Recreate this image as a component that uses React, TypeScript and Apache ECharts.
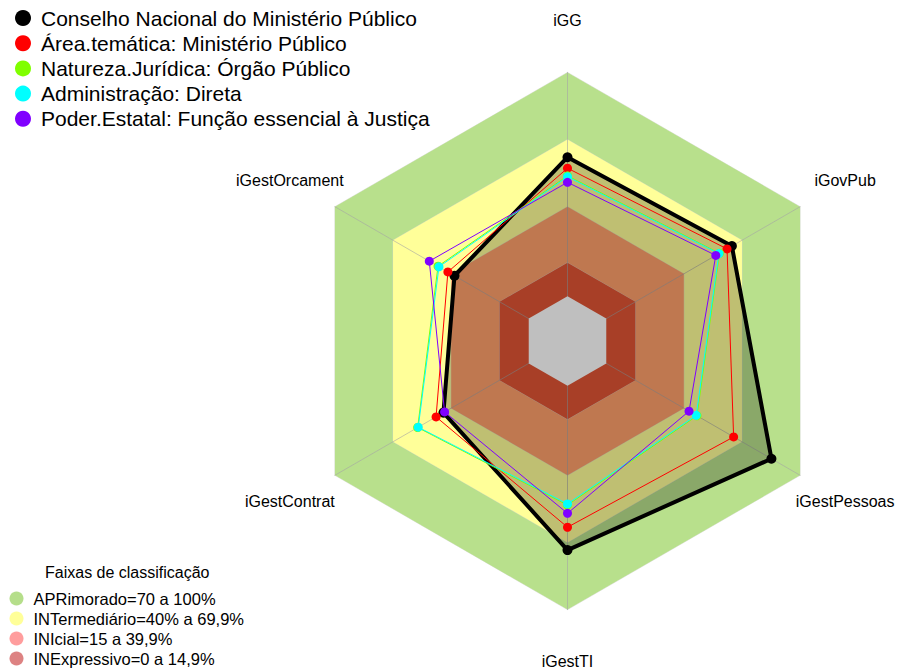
import React, { useEffect, useRef } from "react";
import * as echarts from "echarts";

// Indicators, listed counter-clockwise from the top (ECharts radar order)
const categories = ["iGG", "iGestOrcament", "iGestContrat", "iGestTI", "iGestPessoas", "iGovPub"];

const seriesNames = [
  "Conselho Nacional do Ministério Público",
  "Área.temática: Ministério Público",
  "Natureza.Jurídica: Órgão Público",
  "Administração: Direta",
  "Poder.Estatal: Função essencial à Justiça",
];
const seriesColors = ["#000000", "#ff0000", "#80ff00", "#00ffff", "#8000ff"];

const cnmp = [62.1, 38.3, 44.0, 73.4, 85.2, 64.8];
const areaTematica = [57.2, 41.7, 47.8, 63.2, 65.7, 62.3];
const naturezaJuridica = [53.8, 46.8, 57.3, 53.3, 46.8, 58.4];
const administracao = [53.4, 46.3, 57.0, 52.8, 46.4, 58.1];
const poderEstatal = [50.9, 51.3, 43.4, 57.0, 42.7, 56.5];
const seriesValues = [cnmp, areaTematica, naturezaJuridica, administracao, poderEstatal];

// Classification bands (upper limit of each band)
const bandNames = [
  "APRimorado=70 a 100%",
  "INTermediário=40% a 69,9%",
  "INIcial=15 a 39,9%",
  "INExpressivo=0 a 14,9%",
];
const bandUpper = [100, 70, 40, 15];
const bandFill = ["#b8e08c", "#ffff99", "#ffa06b", "#e05535"];
const bandLegendColors = ["#b5de8a", "#ffff99", "#ff9d9d", "#dd8282"];

const zeroLevel = 0;
const axisMin = -20;
const axisMax = 100;

const FONT = "'Liberation Sans', Arial, Helvetica, sans-serif";

export default function App() {
  const ref = useRef<HTMLDivElement>(null);

  useEffect(() => {
    if (!ref.current) return;
    const chart = echarts.init(ref.current, undefined, { renderer: "svg" });

    const bandSeries = bandNames.map((name, i) => ({
      type: "radar",
      name,
      z: 0,
      silent: true,
      symbol: "none",
      lineStyle: { color: "rgba(210,210,210,0.6)", width: 1 },
      areaStyle: { color: bandFill[i], opacity: 1 },
      itemStyle: { color: bandFill[i] },
      emphasis: { disabled: true },
      data: [{ name, value: categories.map(() => bandUpper[i]) }],
    }));

    const centerSeries = {
      type: "radar",
      name: "zero",
      z: 1.5,
      silent: true,
      symbol: "none",
      lineStyle: { width: 0, color: "#ffffff" },
      areaStyle: { color: "#ffffff", opacity: 1 },
      itemStyle: { color: "#ffffff" },
      emphasis: { disabled: true },
      data: [{ name: "zero", value: categories.map(() => zeroLevel) }],
    };

    const dataSeries = seriesNames.map((name, i) => ({
      type: "radar",
      name,
      z: 2,
      silent: true,
      symbol: "circle",
      symbolSize: i === 0 ? 10 : 9,
      lineStyle: { color: seriesColors[i], width: i === 0 ? 4 : 1 },
      itemStyle: { color: seriesColors[i] },
      areaStyle: i === 0 ? { color: "rgba(0,0,0,0.25)", opacity: 1 } : undefined,
      emphasis: { disabled: true },
      data: [{ name, value: seriesValues[i] }],
    }));

    chart.setOption({
      animation: false,
      backgroundColor: "#ffffff",
      title: {
        text: "Faixas de classificação",
        left: 45,
        top: 564,
        padding: 0,
        textStyle: { fontSize: 16, fontWeight: "normal", color: "#000", fontFamily: FONT },
      },
      legend: [
        {
          orient: "vertical",
          left: 15,
          top: 7.5,
          padding: 0,
          itemWidth: 26,
          itemHeight: 16,
          itemGap: 4.2,
          icon: "circle",
          selectedMode: false,
          textStyle: { fontSize: 21, color: "#000", fontFamily: FONT },
          data: seriesNames.map((n, i) => ({
            name: n,
            itemStyle: { color: seriesColors[i], borderWidth: 0 },
          })),
        },
        {
          orient: "vertical",
          left: 9.5,
          top: 590,
          padding: 0,
          itemWidth: 24,
          itemHeight: 14,
          itemGap: 3,
          icon: "circle",
          selectedMode: false,
          textStyle: { fontSize: 16.5, color: "#000", fontFamily: FONT },
          data: bandNames.map((n, i) => ({
            name: n,
            itemStyle: { color: bandLegendColors[i], borderWidth: 0 },
          })),
        },
      ],
      radar: {
        z: 1,
        center: [567.5, 341],
        radius: 268.6,
        startAngle: 90,
        shape: "polygon",
        splitNumber: 6,
        axisNameGap: 52,
        axisName: {
          color: "#000",
          fontSize: 16,
          fontFamily: FONT,
          align: "center",
          verticalAlign: "middle",
        },
        axisLine: { show: true, lineStyle: { color: "rgba(165,165,165,0.6)", width: 1 } },
        splitLine: { show: false },
        splitArea: { show: false },
        axisTick: { show: false },
        axisLabel: { show: false },
        indicator: categories.map((c) => ({ name: c, min: axisMin, max: axisMax })),
      },
      series: [...bandSeries, centerSeries, ...dataSeries],
    });

    return () => chart.dispose();
  }, []);

  return (
    <div
      ref={ref}
      style={{ position: "fixed", left: 0, top: 0, width: 900, height: 672, background: "#fff" }}
    />
  );
}
